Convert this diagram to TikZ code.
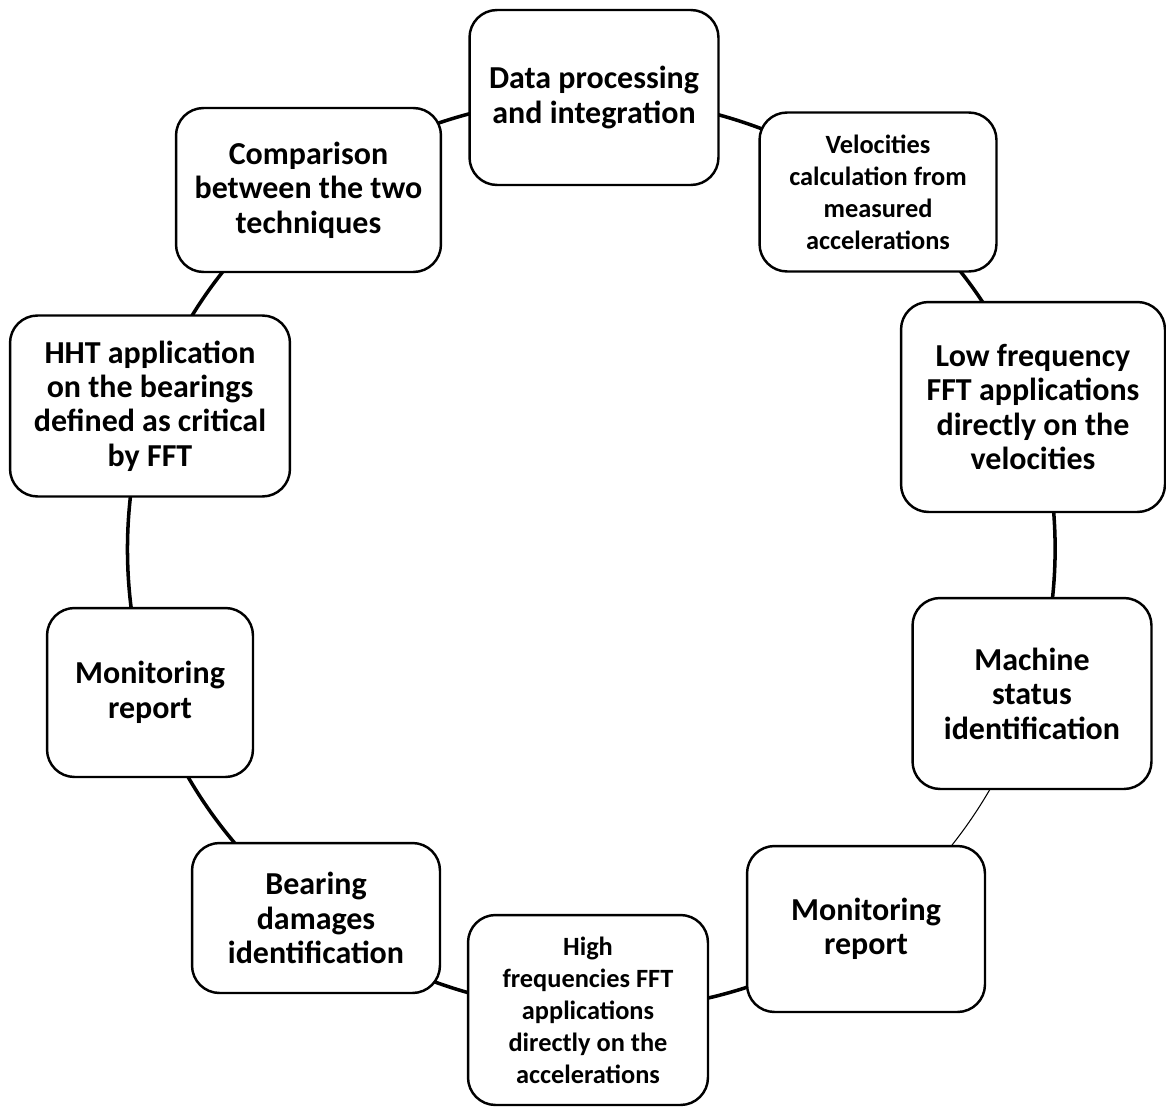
\documentclass[tikz,border=0pt]{standalone}
\usepackage{fontspec}
\setmainfont{Carlito}
\usetikzlibrary{backgrounds}
\begin{document}
\begin{tikzpicture}[x=0.02cm,y=-0.02cm,
  box/.style={draw=black, line width=1.4pt, rounded corners=0.55cm, fill=white,
    align=center, inner sep=0pt, font=\bfseries\fontsize{18.2}{19.6}\selectfont},
  small/.style={font=\bfseries\fontsize{15}{18.2}\selectfont},
  link/.style={draw=black, line width=2pt, bend left=18, looseness=0.87},
  thinlink/.style={link, line width=0.6pt}]
\useasboundingbox (0,0) rectangle (1166,1108);

% the ten steps, clockwise from the top
\node[box, minimum width=4.98cm, minimum height=3.50cm] (data) at (594,97.5) {Data processing\\and integration};
\node[box, small, minimum width=4.74cm, minimum height=3.18cm] (velo) at (878,192) {Velocities\\calculation from\\measured\\accelerations};
\node[box, minimum width=5.28cm, minimum height=4.20cm] (lowf) at (1033,407) {Low frequency\\FFT applications\\directly on the\\velocities};
\node[box, minimum width=4.78cm, minimum height=3.82cm] (mach) at (1032,693.5) {Machine\\status\\identification};
\node[box, minimum width=4.76cm, minimum height=3.32cm] (monr) at (866,929) {Monitoring\\report};
\node[box, small, minimum width=4.80cm, minimum height=3.80cm] (high) at (588,1010) {High\\frequencies FFT\\applications\\directly on the\\accelerations};
\node[box, minimum width=4.96cm, minimum height=3.00cm] (bear) at (316,918) {Bearing\\damages\\identification};
\node[box, minimum width=4.12cm, minimum height=3.38cm] (monl) at (150,692.5) {Monitoring\\report};
\node[box, minimum width=5.60cm, minimum height=3.62cm] (hht)  at (150,406) {HHT application\\on the bearings\\defined as critical\\by FFT};
\node[box, minimum width=5.30cm, minimum height=3.28cm] (comp) at (308.5,190) {Comparison\\between the two\\techniques};

% arcs of the cycle joining neighbouring steps, hidden behind the boxes
\begin{scope}[on background layer]
\draw[link] (data.center) to (velo.center);
\draw[link] (velo.center) to (lowf.center);
\draw[link] (lowf.center) to (mach.center);
\draw[thinlink] (mach.center) to (monr.center);
\draw[link] (monr.center) to (high.center);
\draw[link] (high.center) to (bear.center);
\draw[link] (bear.center) to (monl.center);
\draw[link] (monl.center) to (hht.center);
\draw[link] (hht.center)  to (comp.center);
\draw[link] (comp.center) to (data.center);
\end{scope}
\end{tikzpicture}
\end{document}
